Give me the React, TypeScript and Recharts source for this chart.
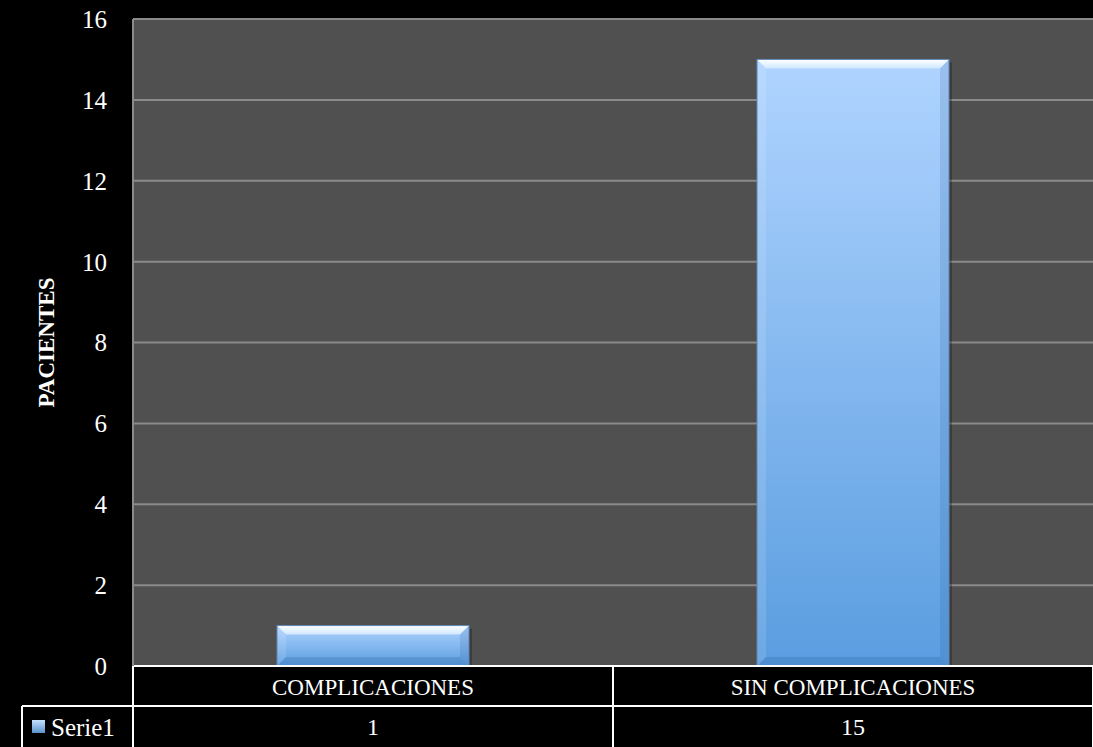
import React from 'react';
import { BarChart, Bar, XAxis, YAxis, CartesianGrid } from 'recharts';

const categories = ['COMPLICACIONES', 'SIN COMPLICACIONES'];
const serie1 = [1, 15];
const yTicks = [0, 2, 4, 6, 8, 10, 12, 14, 16];
const seriesName = 'Serie1';

const data = categories.map((name, i) => ({ name, value: serie1[i] }));

const W = 1093;
const H = 747;
const LEFT = 133;
const BAND = (W - LEFT) / categories.length;
const ROW = 40;
const FONT = '"Liberation Serif", "DejaVu Serif", serif';

const BevelBar = (props: any) => {
  const { x, y, width, height } = props;
  if (!height || height <= 0) return null;
  const b = Math.min(9, height / 3);
  return (
    <g>
      <rect x={x + 3} y={y + 3} width={width} height={height} fill="#000" opacity={0.25} />
      <rect x={x} y={y} width={width} height={height} fill="url(#barFill)" />
      <polygon
        points={`${x},${y} ${x + width},${y} ${x + width - b},${y + b} ${x + b},${y + b}`}
        fill="url(#bevelTop)"
      />
      <polygon
        points={`${x},${y} ${x + b},${y + b} ${x + b},${y + height - b} ${x},${y + height}`}
        fill="#ffffff"
        opacity={0.12}
      />
      <polygon
        points={`${x + width},${y} ${x + width - b},${y + b} ${x + width - b},${y + height - b} ${x + width},${y + height}`}
        fill="#1d4f8a"
        opacity={0.15}
      />
      <polygon
        points={`${x},${y + height} ${x + b},${y + height - b} ${x + width - b},${y + height - b} ${x + width},${y + height}`}
        fill="#1d4f8a"
        opacity={0.2}
      />
      <rect x={x} y={y} width={width} height={height} fill="none" stroke="#5f86b5" strokeWidth={1} />
    </g>
  );
};

const TableTick = (props: any) => {
  const { x, y, payload, index } = props;
  const left = x - BAND / 2;
  const right = x + BAND / 2;
  return (
    <g>
      <line x1={left} y1={y} x2={left} y2={H} stroke="#fff" strokeWidth={2} />
      <line x1={right} y1={y} x2={right} y2={H} stroke="#fff" strokeWidth={2} />
      <line x1={left} y1={y + ROW} x2={right} y2={y + ROW} stroke="#fff" strokeWidth={2} />
      <text x={x} y={y + 21} dy="0.35em" textAnchor="middle" fill="#fff" fontSize={23} fontFamily={FONT}>
        {payload.value}
      </text>
      <text x={x} y={y + ROW + 21} dy="0.35em" textAnchor="middle" fill="#fff" fontSize={24} fontFamily={FONT}>
        {serie1[index]}
      </text>
      {index === 0 && (
        <g>
          <line x1={22} y1={y + ROW} x2={left} y2={y + ROW} stroke="#fff" strokeWidth={2} />
          <line x1={22} y1={y + ROW} x2={22} y2={H} stroke="#fff" strokeWidth={2} />
          <rect x={32} y={y + ROW + 14} width={13} height={13} fill="url(#legendFill)" />
          <text x={51} y={y + ROW + 21} dy="0.35em" fill="#fff" fontSize={25} fontFamily={FONT}>
            {seriesName}
          </text>
        </g>
      )}
    </g>
  );
};

const YLabel = (props: any) => {
  const { viewBox } = props;
  const cx = 46;
  const cy = viewBox.y + viewBox.height / 2;
  return (
    <text
      x={cx}
      y={cy}
      transform={`rotate(-90, ${cx}, ${cy})`}
      textAnchor="middle"
      dominantBaseline="central"
      fill="#fff"
      fontSize={23}
      fontWeight="bold"
      fontFamily={FONT}
    >
      PACIENTES
    </text>
  );
};

const App = () => {
  return (
    <div style={{ position: 'absolute', left: 0, top: 0, width: W, height: H, background: '#000' }}>
      <BarChart
        width={W}
        height={H}
        data={data}
        margin={{ top: 19, right: 0, left: 0, bottom: 0 }}
        barCategoryGap="30%"
      >
        <defs>
          <linearGradient id="barFill" x1="0" y1="0" x2="0" y2="1">
            <stop offset="0%" stopColor="#b0d4ff" />
            <stop offset="100%" stopColor="#5a9de0" />
          </linearGradient>
          <linearGradient id="bevelTop" x1="0" y1="0" x2="0" y2="1">
            <stop offset="0%" stopColor="#ffffff" />
            <stop offset="100%" stopColor="#cfe8ff" />
          </linearGradient>
          <linearGradient id="legendFill" x1="0" y1="0" x2="0" y2="1">
            <stop offset="0%" stopColor="#c6e2ff" />
            <stop offset="100%" stopColor="#5a92cc" />
          </linearGradient>
        </defs>
        <CartesianGrid vertical={false} fill="#505050" stroke="#8a8a8a" strokeWidth={2} />
        <XAxis
          dataKey="name"
          height={81}
          tickLine={false}
          tickSize={0}
          tickMargin={0}
          axisLine={{ stroke: '#fff', strokeWidth: 2 }}
          tick={<TableTick />}
          interval={0}
        />
        <YAxis
          width={LEFT}
          domain={[0, 16]}
          ticks={yTicks}
          tickLine={false}
          tickSize={0}
          tickMargin={26}
          axisLine={{ stroke: '#8a8a8a', strokeWidth: 2 }}
          tick={{ fill: '#fff', fontSize: 25, fontFamily: FONT }}
          label={<YLabel />}
        />
        <Bar dataKey="value" name={seriesName} shape={<BevelBar />} isAnimationActive={false} />
      </BarChart>
    </div>
  );
};

export default App;
